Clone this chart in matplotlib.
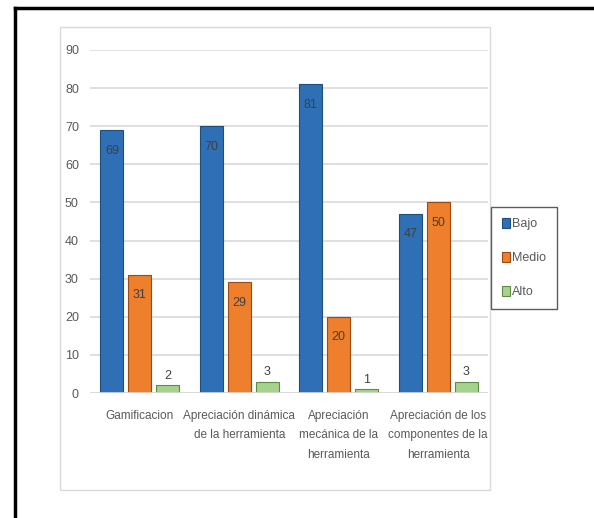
import matplotlib.pyplot as plt
import numpy as np
from matplotlib.patches import Rectangle

categorias = ['Gamificacion', 'Apreciación dinámica\nde la herramienta',
              'Apreciación\nmecánica de la\nherramienta',
              'Apreciación de los\ncomponentes de la\nherramienta']
bajo = [69, 70, 81, 47]
medio = [31, 29, 20, 50]
alto = [2, 3, 1, 3]

plt.rcParams['font.family'] = ['Liberation Sans', 'DejaVu Sans']
gris = '#595959'

fig = plt.figure(figsize=(5.94, 5.18), dpi=100)

# outer black frame and inner light chart border
fig.add_artist(plt.Line2D([15/594, 15/594], [0, 1 - 8/518], color='black', lw=2.5,
                          transform=fig.transFigure))
fig.add_artist(plt.Line2D([15/594, 1], [1 - 8/518, 1 - 8/518], color='black', lw=2.5,
                          transform=fig.transFigure))
fig.add_artist(Rectangle((60/594, 1 - 490/518), 430/594, 463/518, fill=False,
                         edgecolor='#d9d9d9', lw=1, transform=fig.transFigure, zorder=0))

ax = fig.add_axes([90/594, 1 - 393/518, 398/594, 343/518])
x = np.arange(len(categorias))
w = 0.23
b1 = ax.bar(x - 0.28, bajo, w, color='#2F6FB5', edgecolor='#1f4e79', lw=0.8, label='Bajo')
b2 = ax.bar(x, medio, w, color='#EE7F2D', edgecolor='#9c4a10', lw=0.8, label='Medio')
b3 = ax.bar(x + 0.28, alto, w, color='#A6D38C', edgecolor='#5f8a45', lw=0.8, label='Alto')

for bars in (b1, b2):
    for r in bars:
        ax.text(r.get_x() + r.get_width()/2, r.get_height() - 3.8, str(int(r.get_height())),
                ha='center', va='top', fontsize=9, color='#404040')
for r in b3:
    ax.text(r.get_x() + r.get_width()/2, r.get_height() + 0.9, str(int(r.get_height())),
            ha='center', va='bottom', fontsize=9, color='#404040')

ax.set_xlim(-0.5, 3.5)
ax.set_ylim(0, 90)
ax.set_yticks(range(0, 91, 10))
ax.yaxis.grid(True, color='#d9d9d9', lw=1.2)
ax.set_axisbelow(True)
for s in ax.spines.values():
    s.set_visible(False)
ax.tick_params(length=0, colors=gris, labelsize=9)
ax.tick_params(axis='y', pad=8)
ax.set_xticks(x)
ax.set_xticklabels(categorias, linespacing=1.85, fontsize=8.5)
ax.tick_params(axis='x', pad=12)
ax.axhline(0, color='#d9d9d9', lw=1.2)

leg = fig.legend(handles=[b1, b2, b3], loc='center', bbox_to_anchor=(524/594, 1 - 258/518),
                 fontsize=9, handlelength=0.6, handleheight=0.9, handletextpad=0.2,
                 labelspacing=1.7, borderpad=0.9, fancybox=False, edgecolor='#333333')
for t in leg.get_texts():
    t.set_color(gris)

fig.savefig('out.png', dpi=100)
